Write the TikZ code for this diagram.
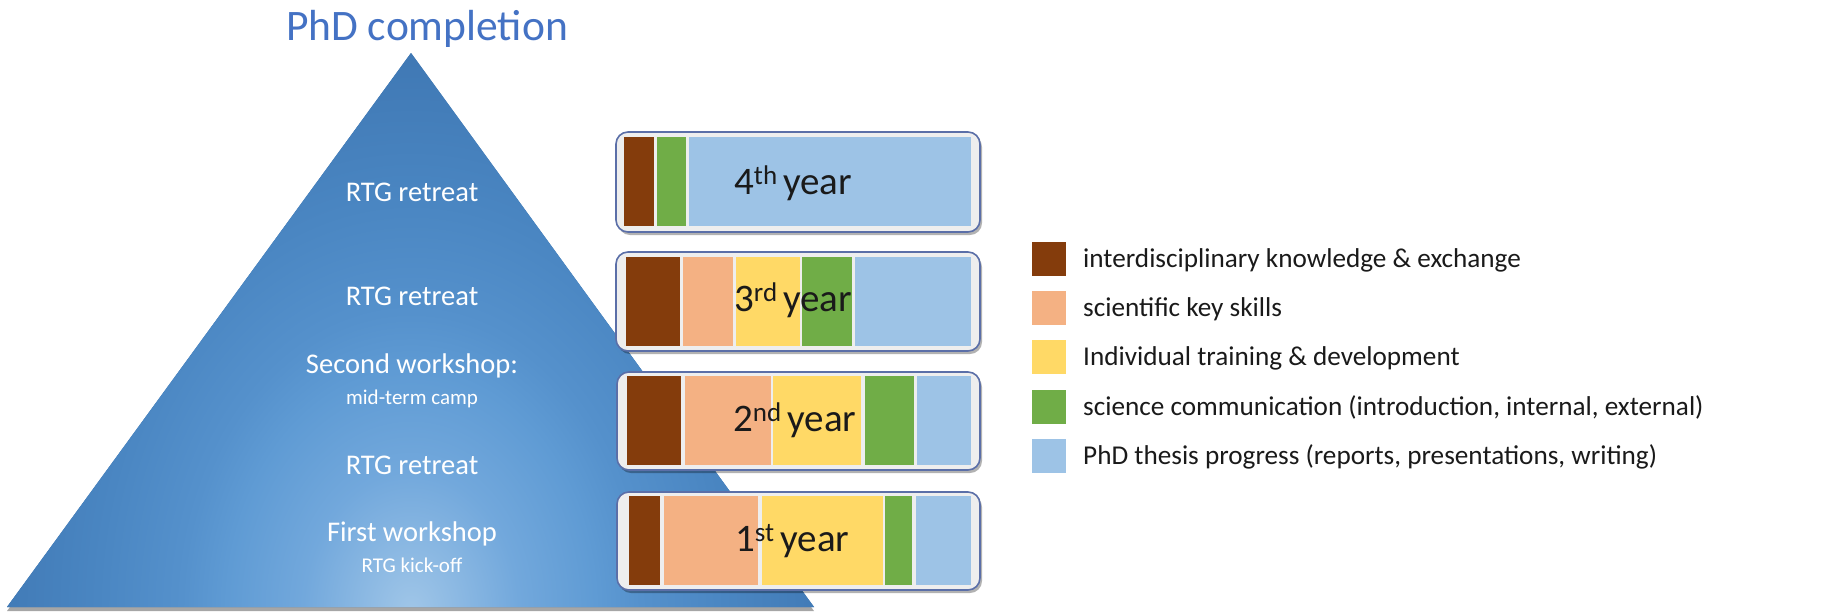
\documentclass[tikz,border=0pt]{standalone}
\usepackage{fontspec}
\setmainfont{Carlito}
\usetikzlibrary{shadows}
\definecolor{cBrown}{HTML}{843C0C}
\definecolor{cSalmon}{HTML}{F4B183}
\definecolor{cYellow}{HTML}{FFD966}
\definecolor{cGreen}{HTML}{70AD47}
\definecolor{cBlue}{HTML}{9DC3E6}
\definecolor{titleBlue}{HTML}{4472C4}
\definecolor{boxBorder}{HTML}{5B6FA8}
\definecolor{boxFill}{HTML}{EEEEEE}
\definecolor{triA}{HTML}{A0C6E8}
\definecolor{triB}{HTML}{72A8DC}
\definecolor{triC}{HTML}{5F9BD4}
\definecolor{triD}{HTML}{5591CC}
\definecolor{triE}{HTML}{4A86C2}
\definecolor{triF}{HTML}{4079B5}
\definecolor{triG}{HTML}{3870AC}
\definecolor{txt}{HTML}{1A1A1A}
\pgfdeclareradialshading{trishade}{\pgfpoint{0bp}{0bp}}{color(0bp)=(triA); color(5.5bp)=(triB); color(9.4bp)=(triC); color(11.7bp)=(triD); color(16bp)=(triE); color(21.5bp)=(triF); color(25bp)=(triG); color(50bp)=(triG)}
\newcommand{\yr}[2]{#1\raisebox{10pt}{\fontsize{27}{27}\selectfont #2\ }year}
\begin{document}
\begin{tikzpicture}[x=1pt,y=-1pt,
  yearbox/.style={draw=boxBorder, line width=1.6pt, fill=boxFill, rounded corners=12pt,
    drop shadow={shadow xshift=2pt, shadow yshift=-3pt, opacity=0.3, fill=black}},
  yeartext/.style={anchor=base west, inner sep=0pt, text=txt, font=\fontsize{39}{42}\selectfont},
  trilabel/.style={anchor=base, inner sep=0pt, text=white, font=\fontsize{28.5}{32}\selectfont},
  trisub/.style={anchor=base, inner sep=0pt, text=white, font=\fontsize{21}{24}\selectfont},
  legsq/.style={minimum width=34pt, minimum height=34pt, inner sep=0pt},
  legtext/.style={anchor=base west, inner sep=0pt, text=txt, font=\fontsize{27.2}{30}\selectfont}]
\useasboundingbox[fill=white] (0,0) rectangle (1840,614);

% title
\node[anchor=base, inner sep=0pt, text=titleBlue, font=\fontsize{43.5}{48}\selectfont] (title) at (427,40) {PhD completion};

% triangle
\coordinate (tt) at (411,53);
\coordinate (tl) at (7,607);
\coordinate (tr) at (814,607);
\path[fill=triG, drop shadow={shadow xshift=0pt, shadow yshift=-4pt, opacity=0.35, fill=black}] (tt) -- (tl) -- (tr) -- cycle;
\begin{scope}
  \clip (tt) -- (tl) -- (tr) -- cycle;
  \shade[shading=trishade] (411,612) ellipse [x radius=490pt, y radius=640pt];
\end{scope}

\node[trilabel] (r4) at (412,201.5) {RTG retreat};
\node[trilabel] (r3) at (412,305.5) {RTG retreat};
\node[trilabel] (w2) at (412,373) {Second workshop:};
\node[trisub] (w2s) at (412,404) {mid-term camp};
\node[trilabel] (r2) at (412,474) {RTG retreat};
\node[trilabel] (w1) at (412,541.5) {First workshop};
\node[trisub] (w1s) at (412,572) {RTG kick-off};

% year boxes
\path[yearbox] (616,132) rectangle (980,232);
\fill[cBrown] (624,137) rectangle (654,226);
\fill[cGreen] (657,137) rectangle (686,226);
\fill[cBlue] (689,137) rectangle (971,226);
\node[yeartext] (y4) at (734,194) {\yr{4}{th}};

\path[yearbox] (616,252) rectangle (980,351);
\fill[cBrown] (626,257) rectangle (680,346);
\fill[cSalmon] (683,257) rectangle (733,346);
\fill[cYellow] (736,257) rectangle (800,346);
\fill[cGreen] (802,257) rectangle (852,346);
\fill[cBlue] (855,257) rectangle (971,346);
\node[yeartext] (y3) at (734,311.5) {\yr{3}{rd}};

\path[yearbox] (617,372) rectangle (980,470);
\fill[cBrown] (627,376) rectangle (681,465);
\fill[cSalmon] (685,376) rectangle (771,465);
\fill[cYellow] (773,376) rectangle (861,465);
\fill[cGreen] (865,376) rectangle (914,465);
\fill[cBlue] (917,376) rectangle (971,465);
\node[yeartext] (y2) at (733,431.5) {\yr{2}{nd}};

\path[yearbox] (617,492) rectangle (980,590);
\fill[cBrown] (629,496) rectangle (660,585);
\fill[cSalmon] (664,496) rectangle (758,585);
\fill[cYellow] (762,496) rectangle (883,585);
\fill[cGreen] (885,496) rectangle (912,585);
\fill[cBlue] (916,496) rectangle (971,585);
\node[yeartext] (y1) at (735,551.5) {\yr{1}{st}};

% legend
\node[legsq, fill=cBrown] (l1) at (1049,258.5) {};
\node[legsq, fill=cSalmon] (l2) at (1049,307.5) {};
\node[legsq, fill=cYellow] (l3) at (1049,357) {};
\node[legsq, fill=cGreen] (l4) at (1049,406.5) {};
\node[legsq, fill=cBlue] (l5) at (1049,455.5) {};
\node[legtext] (t1) at (1083,267) {interdisciplinary knowledge \& exchange};
\node[legtext] (t2) at (1083,316) {scientific key skills};
\node[legtext] (t3) at (1083,365.5) {Individual training \& development};
\node[legtext] (t4) at (1083,415) {science communication (introduction, internal, external)};
\node[legtext] (t5) at (1083,464) {PhD thesis progress (reports, presentations, writing)};
\end{tikzpicture}
\end{document}
